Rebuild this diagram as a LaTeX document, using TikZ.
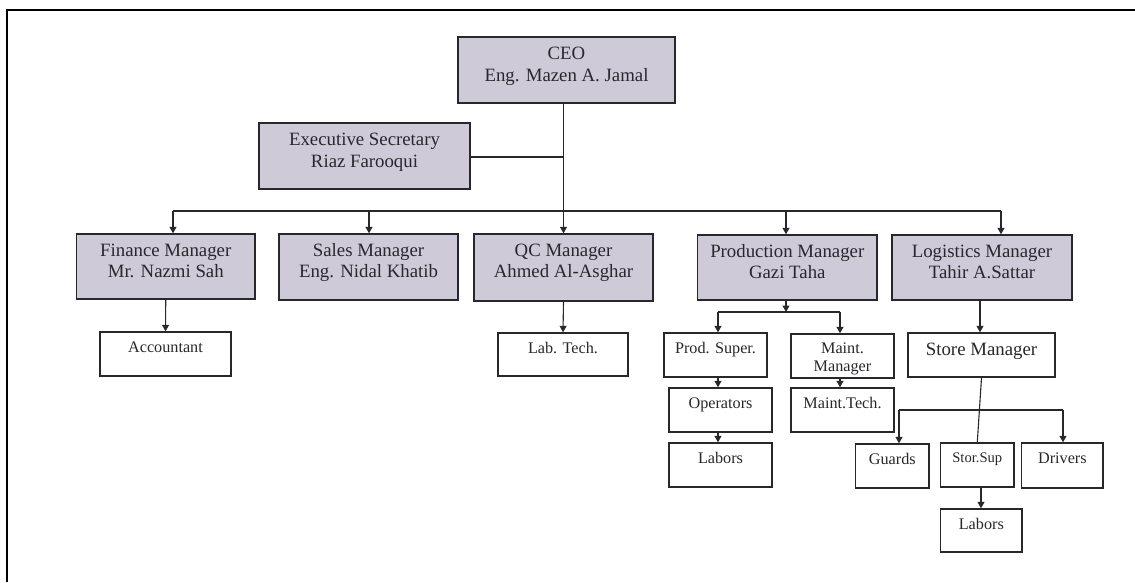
\documentclass[tikz,border=0pt]{standalone}
\usepackage{fontspec}
\setmainfont{Liberation Serif}
\usetikzlibrary{arrows.meta}

\definecolor{boxfill}{RGB}{206,202,216}
\definecolor{ink}{RGB}{40,40,44}

\tikzset{
  mgrbox/.style={draw=ink, line width=1.4pt, fill=boxfill, inner sep=0pt},
  subbox/.style={draw=ink, line width=1.4pt, fill=white, inner sep=0pt},
  bigtxt/.style={font=\fontsize{18.8}{21.5}\selectfont, text=ink, inner sep=0pt, anchor=base, align=center},
  smalltxt/.style={font=\fontsize{16.2}{17.7}\selectfont, text=ink, inner sep=0pt, anchor=base, align=center},
  tinytxt/.style={font=\fontsize{14.6}{16}\selectfont, text=ink, inner sep=0pt, anchor=base, align=center},
  link/.style={draw=ink, line width=1.1pt},
  arr/.style={link, -{Triangle[length=6.5pt,width=7pt]}},
}

% box from corner (x1,y1) to (x2,y2): style, name, x1, y1, x2, y2
\newcommand\orgbox[6]{%
  \pgfmathsetmacro\bw{#5-#3}\pgfmathsetmacro\bh{#6-#4}%
  \pgfmathsetmacro\cx{(#3+#5)/2}\pgfmathsetmacro\cy{(#4+#6)/2}%
  \node[#1, minimum width=\bw pt, minimum height=\bh pt] (#2) at (\cx,\cy) {};}

\begin{document}
\begin{tikzpicture}[x=1pt,y=-1pt]
\useasboundingbox (0,0) rectangle (1135,582);

% page frame
\draw[line width=2.4pt, black] (7,582) -- (7,10) -- (1135,10);

% top level (base anchor sits on the last line of a two-line label)
\orgbox{mgrbox}{ceo}{458}{37}{675}{103}
\node[bigtxt] (ceo-t) at ([yshift=-45pt]ceo.north) {CEO\\Eng. Mazen A. Jamal};
\orgbox{mgrbox}{sec}{259}{123}{470}{189}
\node[bigtxt] (sec-t) at ([yshift=-45pt]sec.north) {Executive Secretary\\Riaz Farooqui};

% managers
\orgbox{mgrbox}{fin}{76.5}{234}{255}{299}
\node[bigtxt] (fin-t) at ([yshift=-44.5pt]fin.north) {Finance Manager\\Mr. Nazmi Sah};
\orgbox{mgrbox}{sal}{279}{234}{458}{300}
\node[bigtxt] (sal-t) at ([yshift=-44.5pt]sal.north) {Sales Manager\\Eng. Nidal Khatib};
\orgbox{mgrbox}{qc}{474}{234}{653}{301}
\node[bigtxt] (qc-t) at ([yshift=-44.5pt]qc.north) {QC Manager\\Ahmed Al-Asghar};
\orgbox{mgrbox}{prod}{697.5}{235}{877}{300}
\node[bigtxt] (prod-t) at ([yshift=-44.5pt]prod.north) {Production Manager\\Gazi Taha};
\orgbox{mgrbox}{log}{892}{235}{1072}{300}
\node[bigtxt] (log-t) at ([yshift=-44.5pt]log.north) {Logistics Manager\\Tahir A.Sattar};

% staff
\orgbox{subbox}{acc}{100}{332}{231}{376}
\node[smalltxt] (acc-t) at ([yshift=-20.7pt]acc.north) {Accountant};
\orgbox{subbox}{lab}{498}{333}{628}{376}
\node[smalltxt] (lab-t) at ([yshift=-20.7pt]lab.north) {Lab. Tech.};
\orgbox{subbox}{ps}{664}{333}{767}{377}
\node[smalltxt] (ps-t) at ([yshift=-21pt]ps.north) {Prod. Super.};
\orgbox{subbox}{mm}{791}{334}{894}{378}
\begin{scope}
  \clip (mm.south west) rectangle (mm.north east);
  \node[smalltxt] (mm-t) at ([yshift=-37.7pt]mm.north) {Maint.\\Manager};
\end{scope}
\draw[draw=ink, line width=1.4pt] (mm.south west) rectangle (mm.north east);
\orgbox{subbox}{ops}{669}{388}{772}{432}
\node[smalltxt] (ops-t) at ([yshift=-21pt]ops.north) {Operators};
\orgbox{subbox}{plab}{669}{443}{772}{487}
\node[smalltxt] (plab-t) at ([yshift=-21pt]plab.north) {Labors};
\orgbox{subbox}{mt}{791}{388}{894}{432}
\node[smalltxt] (mt-t) at ([yshift=-21pt]mt.north) {Maint.Tech.};
\orgbox{subbox}{sm}{908}{333}{1055}{377}
\node[bigtxt] (sm-t) at ([yshift=-23pt]sm.north) {Store Manager};
\orgbox{subbox}{gua}{855.5}{444}{929}{488}
\node[smalltxt] (gua-t) at ([yshift=-21pt]gua.north) {Guards};
\orgbox{subbox}{ss}{940.6}{443}{1014}{487}
\node[tinytxt] (ss-t) at ([yshift=-19.7pt]ss.north) {Stor.Sup};
\orgbox{subbox}{drv}{1021.7}{443}{1103}{488}
\node[smalltxt] (drv-t) at ([yshift=-21pt]drv.north) {Drivers};
\orgbox{subbox}{slab}{940.6}{509}{1022}{552}
\node[smalltxt] (slab-t) at ([yshift=-21pt]slab.north) {Labors};

% top connectors
\coordinate (secj) at (564,157);
\draw[link] (sec.east |- secj) -- (secj);
\draw[arr] (ceo.south -| qc.north) -- (qc.north);
\coordinate (b1) at (173,211);
\coordinate (b2) at (369,211);
\coordinate (b4) at (786,211);
\coordinate (b5) at (1001,211);
\draw[link] (b1) -- (b5);
\draw[arr] (b1) -- (b1 |- fin.north);
\draw[arr] (b2) -- (b2 |- sal.north);
\draw[arr] (b4) -- (b4 |- prod.north);
\draw[arr] (b5) -- (b5 |- log.north);

% finance and QC staff
\draw[arr] (fin.south) -- (acc.north);
\draw[arr] (qc.south) -- (lab.north);

% production branch
\coordinate (pj) at (786,312);
\coordinate (pl) at (718,312);
\coordinate (pr) at (840,312);
\draw[arr] (prod.south -| pj) -- (pj);
\draw[link] (pl) -- (pr);
\draw[arr] (pl) -- (pl |- ps.north);
\draw[arr] (pr) -- (pr |- mm.north);
\draw[arr] (ps.south -| pl) -- (pl |- ops.north);
\draw[arr] (ops.south -| pl) -- (pl |- plab.north);
\draw[arr] (mm.south -| pr) -- (pr |- mt.north);

% logistics branch
\draw[arr] (log.south -| 980,0) -- (sm.north -| 980,0);
\draw[link] (sm.south) -- (ss.north);
\coordinate (gl) at (899,410);
\coordinate (gr) at (1063,410);
\draw[link] (gl) -- (gr);
\draw[arr] (gl) -- (gl |- gua.north);
\draw[arr] (gr) -- (gr |- drv.north);
\draw[arr] (ss.south -| 981,0) -- (slab.north -| 981,0);
\end{tikzpicture}
\end{document}
